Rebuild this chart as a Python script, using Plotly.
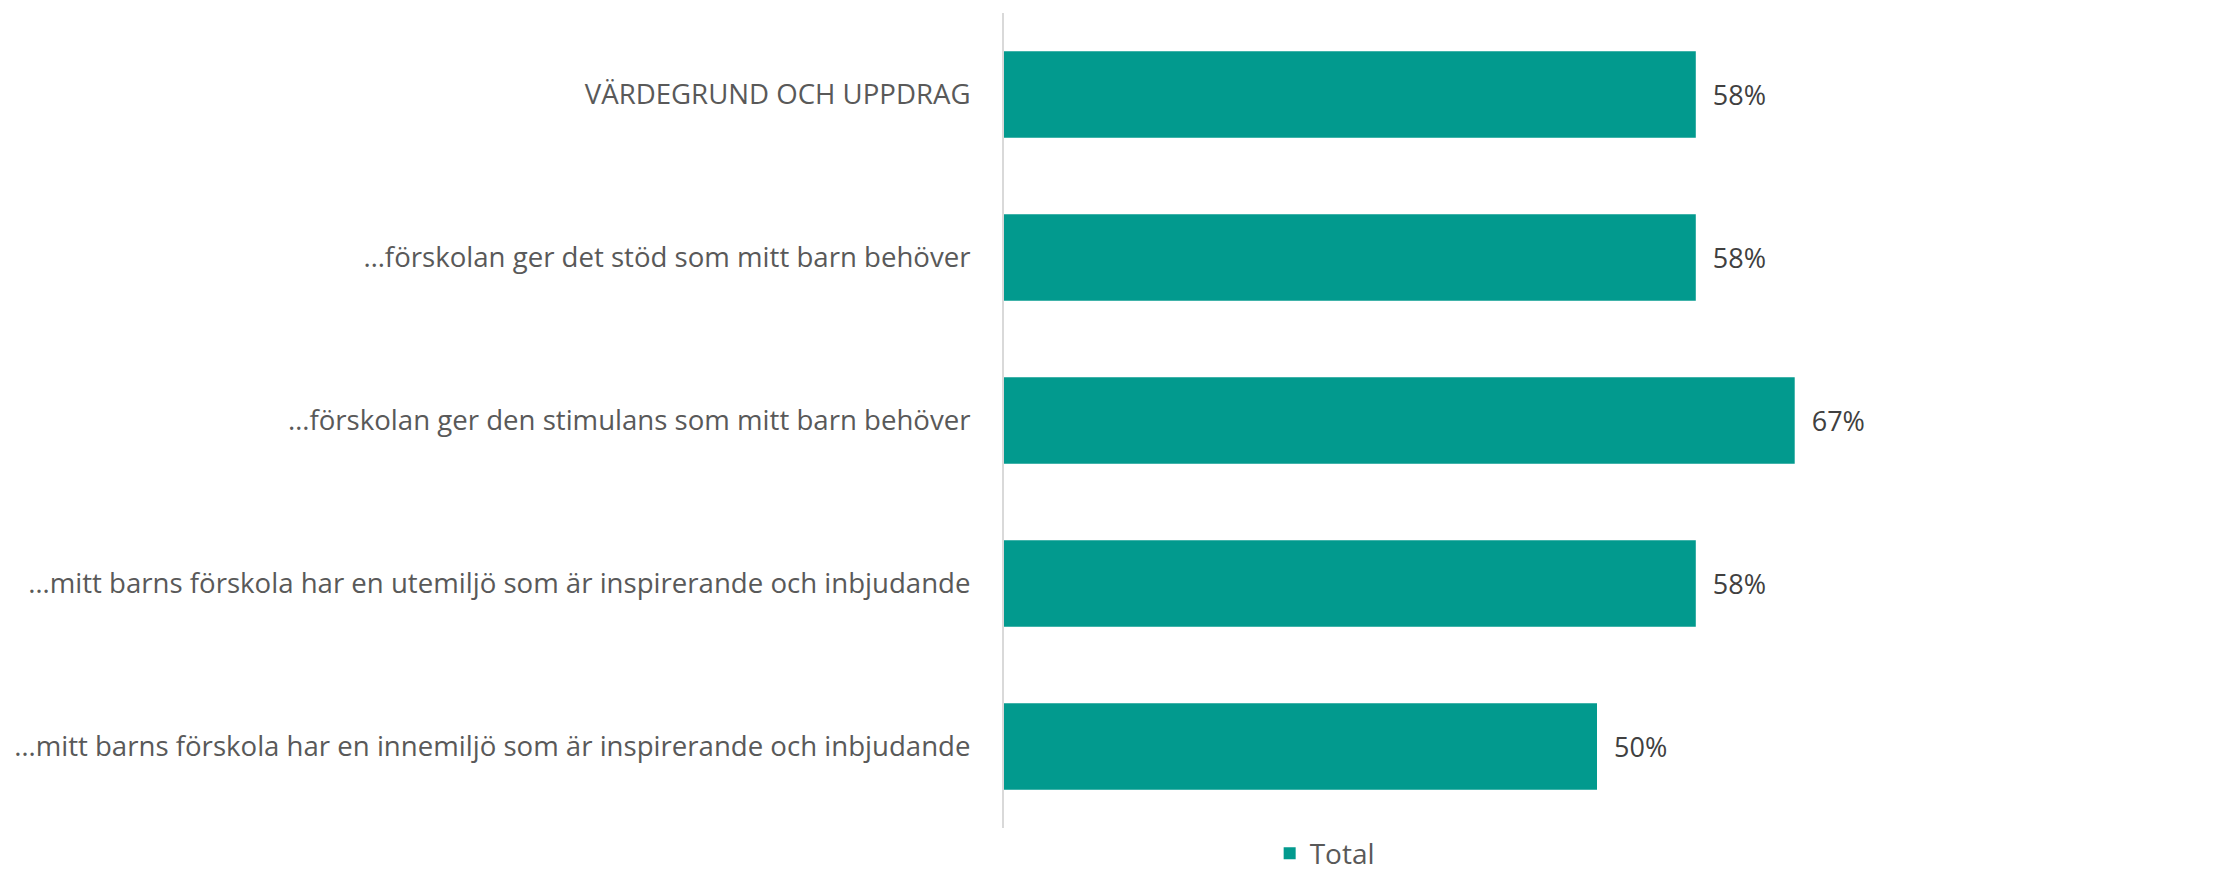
import plotly.graph_objects as go

categories = [
    "VÄRDEGRUND OCH UPPDRAG",
    "…förskolan ger det stöd som mitt barn behöver",
    "…förskolan ger den stimulans som mitt barn behöver",
    "…mitt barns förskola har en utemiljö som är inspirerande och inbjudande",
    "…mitt barns förskola har en innemiljö som är inspirerande och inbjudande",
]
values = [0.5833, 0.5833, 0.6667, 0.5833, 0.50]
value_labels = ["58%", "58%", "67%", "58%", "50%"]
series_name = "Total"

W, H = 2231, 875
ml, mr, mt, mb = 1004, 41, 13, 47

fig = go.Figure()
fig.add_trace(go.Bar(
    y=categories,
    x=values,
    orientation="h",
    name=series_name,
    marker=dict(color="#029A8E", line=dict(width=0)),
    width=0.53,
    text=value_labels,
    texttemplate="  %{text}",
    textposition="outside",
    textfont=dict(family="Open Sans", size=27, color="#404040"),
    cliponaxis=False,
    showlegend=True,
    hoverinfo="skip",
))

fig.update_layout(
    width=W, height=H,
    margin=dict(l=ml, r=mr, t=mt, b=mb, pad=0, autoexpand=False),
    paper_bgcolor="white",
    plot_bgcolor="white",
    font=dict(family="Open Sans", size=27, color="#595959"),
    bargap=0.47,
    showlegend=True,
    legend=dict(
        orientation="h",
        x=0.224, xanchor="left",
        yref="container",
        y=0.053, yanchor="top",
        font=dict(family="Open Sans", size=28, color="#595959"),
        bgcolor="rgba(0,0,0,0)",
        itemwidth=30,
    ),
    xaxis=dict(
        range=[0, 1],
        visible=False,
        showgrid=False,
        zeroline=False,
        fixedrange=True,
        automargin=False,
    ),
    yaxis=dict(
        autorange="reversed",
        showline=True,
        linecolor="#D9D9D9",
        linewidth=2,
        ticks="",
        showgrid=False,
        zeroline=False,
        automargin=False,
        ticklabelstandoff=26,
        tickfont=dict(family="Open Sans", size=27.6, color="#595959"),
    ),
)

fig.write_html("out.html")
